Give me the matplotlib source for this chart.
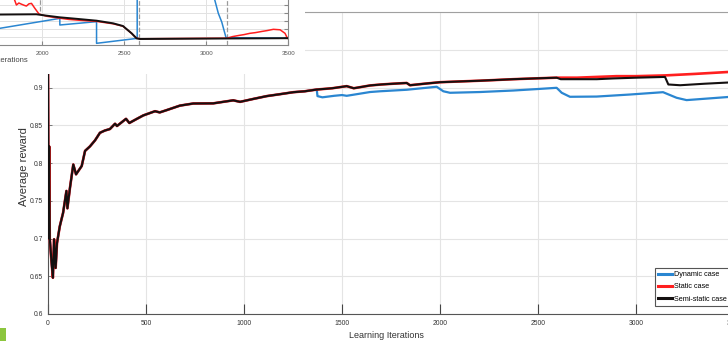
import matplotlib
matplotlib.use('Agg')
import matplotlib.pyplot as plt
from matplotlib import font_manager
from matplotlib.patches import Rectangle
from matplotlib.lines import Line2D

# ---- main curves: average reward vs learning iteration ----
# shared start (all three cases coincide here)
early_iters = [0, 3, 6, 9, 12, 17, 25, 31, 39, 46, 60, 77, 94, 99, 112, 129, 143,
               172, 189, 214, 240, 265, 290, 316, 342, 352, 398, 415, 450, 486,
               546, 570, 605, 673, 741, 843, 945, 980, 1050, 1116, 1180, 1252,
               1310, 1371]
early_reward = [0.93, 0.70, 0.822, 0.70, 0.69, 0.672, 0.648, 0.699, 0.661, 0.694,
                0.716, 0.734, 0.763, 0.74, 0.767, 0.798, 0.785, 0.796, 0.816,
                0.822, 0.83, 0.84, 0.843, 0.845, 0.852, 0.849, 0.8585, 0.853,
                0.858, 0.863, 0.8686, 0.867, 0.87, 0.876, 0.8788, 0.879, 0.883,
                0.881, 0.885, 0.8886, 0.891, 0.8938, 0.895, 0.8973]

semi_iters = [1450, 1524, 1560, 1643, 1700, 1760, 1830, 1847, 1920, 2000, 2100,
              2204, 2290, 2374, 2480, 2595, 2616, 2700, 2800, 2884, 3000, 3148,
              3165, 3225, 3350, 3500]
semi_reward = [0.899, 0.9018, 0.899, 0.9027, 0.904, 0.905, 0.906, 0.903, 0.905,
               0.907, 0.908, 0.909, 0.910, 0.911, 0.912, 0.913, 0.911, 0.911,
               0.911, 0.912, 0.913, 0.914, 0.904, 0.903, 0.905, 0.907]

static_iters = [1450, 1524, 1560, 1643, 1700, 1760, 1830, 1847, 1920, 2000, 2100,
                2204, 2290, 2374, 2480, 2595, 2700, 2800, 2900, 3000, 3148, 3300,
                3500]
static_reward = [0.899, 0.9018, 0.899, 0.9027, 0.904, 0.905, 0.906, 0.903, 0.905,
                 0.907, 0.908, 0.909, 0.910, 0.911, 0.912, 0.913, 0.913, 0.914,
                 0.915, 0.915, 0.916, 0.918, 0.921]

dyn_iters = [1375, 1400, 1460, 1500, 1524, 1560, 1643, 1694, 1830, 1983, 2017,
             2051, 2204, 2374, 2500, 2595, 2621, 2663, 2799, 2969, 3138, 3207,
             3258, 3500]
dyn_reward = [0.8886, 0.887, 0.889, 0.890, 0.889, 0.8905, 0.894, 0.895, 0.897,
              0.901, 0.895, 0.893, 0.894, 0.896, 0.898, 0.8996, 0.893, 0.8877,
              0.888, 0.8907, 0.8938, 0.8864, 0.8833, 0.888]

x_ticks = [0, 500, 1000, 1500, 2000, 2500, 3000, 3500]
y_ticks = [0.6, 0.65, 0.7, 0.75, 0.8, 0.85, 0.9, 0.95, 1.0]
y_tick_labels = ['0.6', '0.65', '0.7', '0.75', '0.8', '0.85', '0.9', '', '']
legend_labels = ['Dynamic case', 'Static case', 'Semi-static case']

# ---- small overlaid panel (zoomed view of the later iterations) ----
ins_semi_x = [1700, 1963, 2024, 2106, 2220, 2330, 2431, 2491, 2544, 2574, 2594, 3000, 3500]
ins_semi_y = [3.8, 3.84, 3.67, 3.46, 3.25, 3.04, 2.71, 2.375, 1.46, 0.83, 0.75, 0.8, 0.85]
ins_static_x = [1820, 1841, 1856, 1872, 1890, 1902, 1918, 1933, 1953, 1979, 2024,
                2106, 2160, 2220, 2330, 2431, 2491, 2544, 2574, 2594, 3126, 3160,
                3200, 3230, 3266, 3300, 3340, 3370, 3409, 3450, 3480, 3495]
ins_static_y = [6.2, 5.0, 5.25, 5.1, 4.95, 4.87, 5.15, 5.2, 4.6, 3.87, 3.6,
                3.35, 3.2, 3.1, 2.95, 2.65, 2.35, 1.45, 0.85, 0.78, 0.85, 1.05,
                1.2, 1.3, 1.46, 1.55, 1.7, 1.8, 1.96, 1.9, 1.46, 0.83]
ins_dyn_x = [1700, 2106, 2106, 2330, 2330, 2578, 2578, 3040, 3073, 3094, 3120, 3500]
ins_dyn_y = [1.95, 3.33, 2.5, 2.92, 0.21, 0.83, 6.5, 6.5, 3.96, 2.87, 0.92, 0.85]
ins_x_ticks = [2000, 2500, 3000, 3500]
ins_marks = [2590, 3125]

BLUE = '#2a86d1'
RED = '#ff1f1f'
BLACK = '#141010'
plt.rcParams['font.family'] = ['Liberation Sans', 'DejaVu Sans']

# tick and legend text is set in a narrow face when one is available
installed = {f.name for f in font_manager.fontManager.ttflist}
if 'Liberation Sans Narrow' in installed:
    NARROW = ['Liberation Sans Narrow', 'DejaVu Sans']
    tick_size, leg_size, ins_size = 5.8, 6.2, 5.2
else:
    NARROW = ['Liberation Sans', 'DejaVu Sans']
    tick_size, leg_size, ins_size = 4.9, 5.2, 4.4

W, H = 728, 341


def fx(px):
    return px / W


def fy(py):
    return 1 - py / H


fig = plt.figure(figsize=(W / 100, H / 100), dpi=100)
fig.patch.set_facecolor('white')

ax = fig.add_axes([fx(48), fy(314), (734 - 48) / W, (314 - 12) / H])
ax.plot(early_iters + dyn_iters, early_reward + dyn_reward, color=BLUE, lw=1.6, zorder=3)
ax.plot(early_iters + static_iters, early_reward + static_reward, color=RED, lw=1.9, zorder=4)
ax.plot(early_iters + semi_iters, early_reward + semi_reward, color=BLACK, lw=1.5, zorder=5)

ax.set_xlim(0, 3500)
ax.set_ylim(0.6, 1.0)
ax.set_xticks(x_ticks)
ax.set_xticklabels([str(t) for t in x_ticks])
ax.set_yticks(y_ticks)
ax.set_yticklabels(y_tick_labels)
ax.grid(True, color='#e4e4e4', lw=0.8)
ax.set_axisbelow(True)
ax.tick_params(axis='x', direction='in', length=7, width=0.8, color='#444',
               pad=4, labelsize=tick_size, labelcolor='#333')
ax.tick_params(axis='y', direction='in', length=3, width=0.6, color='#666',
               pad=3.5, labelsize=tick_size, labelcolor='#333')
for lab in ax.get_xticklabels() + ax.get_yticklabels():
    lab.set_family(NARROW)
ax.spines['left'].set_color('#555')
ax.spines['bottom'].set_color('#555')
ax.spines['top'].set_color('#a0a0a0')
ax.spines['right'].set_visible(False)

ax.set_ylabel('Average reward', fontsize=8, color='#333')
ax.yaxis.set_label_coords(-0.027, 0.487)
ax.set_xlabel('Learning Iterations', fontsize=6.5, color='#333')
ax.xaxis.set_label_coords(0.494, -0.055)

handles = [Line2D([], [], color=c, lw=2.2) for c in (BLUE, RED, BLACK)]
leg = ax.legend(handles, legend_labels, loc='upper left',
                bbox_to_anchor=(fx(655), fy(268)), bbox_transform=fig.transFigure,
                fancybox=False, framealpha=1, edgecolor='#555',
                prop={'family': NARROW, 'size': leg_size}, handlelength=1.9,
                handletextpad=0.3, borderpad=0.45, labelspacing=0.7, borderaxespad=0)
leg.get_frame().set_linewidth(0.8)

# white backing for the small panel
fig.add_artist(Rectangle((0, fy(74)), fx(305), 74 / H, transform=fig.transFigure,
                         facecolor='white', edgecolor='none', zorder=2))

ins = fig.add_axes([fx(-6.7), fy(45), 295 / W, 48 / H])
ins.set_zorder(3)
ins.plot(ins_dyn_x, ins_dyn_y, color=BLUE, lw=1.1, zorder=3)
ins.plot(ins_static_x, ins_static_y, color=RED, lw=1.1, zorder=4)
ins.plot(ins_semi_x, ins_semi_y, color=BLACK, lw=1.4, zorder=5)
for m in ins_marks:
    ins.axvline(m, color='#9a9a9a', ls='--', lw=0.9, zorder=2)
ins.axvline(1985, ymin=0.7, color='#9a9a9a', ls='--', lw=0.9, zorder=2)
ins.set_xlim(1700, 3500)
ins.set_ylim(0, 6)
ins.set_xticks(ins_x_ticks)
ins.set_xticklabels([str(t) for t in ins_x_ticks])
ins.set_yticks([1, 2, 3, 4, 5])
ins.set_yticklabels([])
ins.grid(True, color='#e2e2e2', lw=0.7)
ins.tick_params(axis='x', direction='in', length=3, color='#888', pad=4,
                labelsize=ins_size, labelcolor='#555')
ins.tick_params(axis='y', direction='in', length=3, color='#888',
                left=False, right=True)
for lab in ins.get_xticklabels():
    lab.set_family(NARROW)
ins.spines['left'].set_visible(False)
ins.spines['top'].set_visible(False)
ins.spines['right'].set_color('#888')
ins.spines['bottom'].set_color('#888')
fig.text(fx(28), fy(61), 'Learning Iterations', ha='right', va='center',
         fontsize=5.5, color='#444', zorder=4)

# green corner block
fig.add_artist(Rectangle((0, 0), fx(6), 13 / H, transform=fig.transFigure,
                         facecolor='#8cc63e', edgecolor='none', zorder=4))

fig.savefig('out.png', dpi=100)
